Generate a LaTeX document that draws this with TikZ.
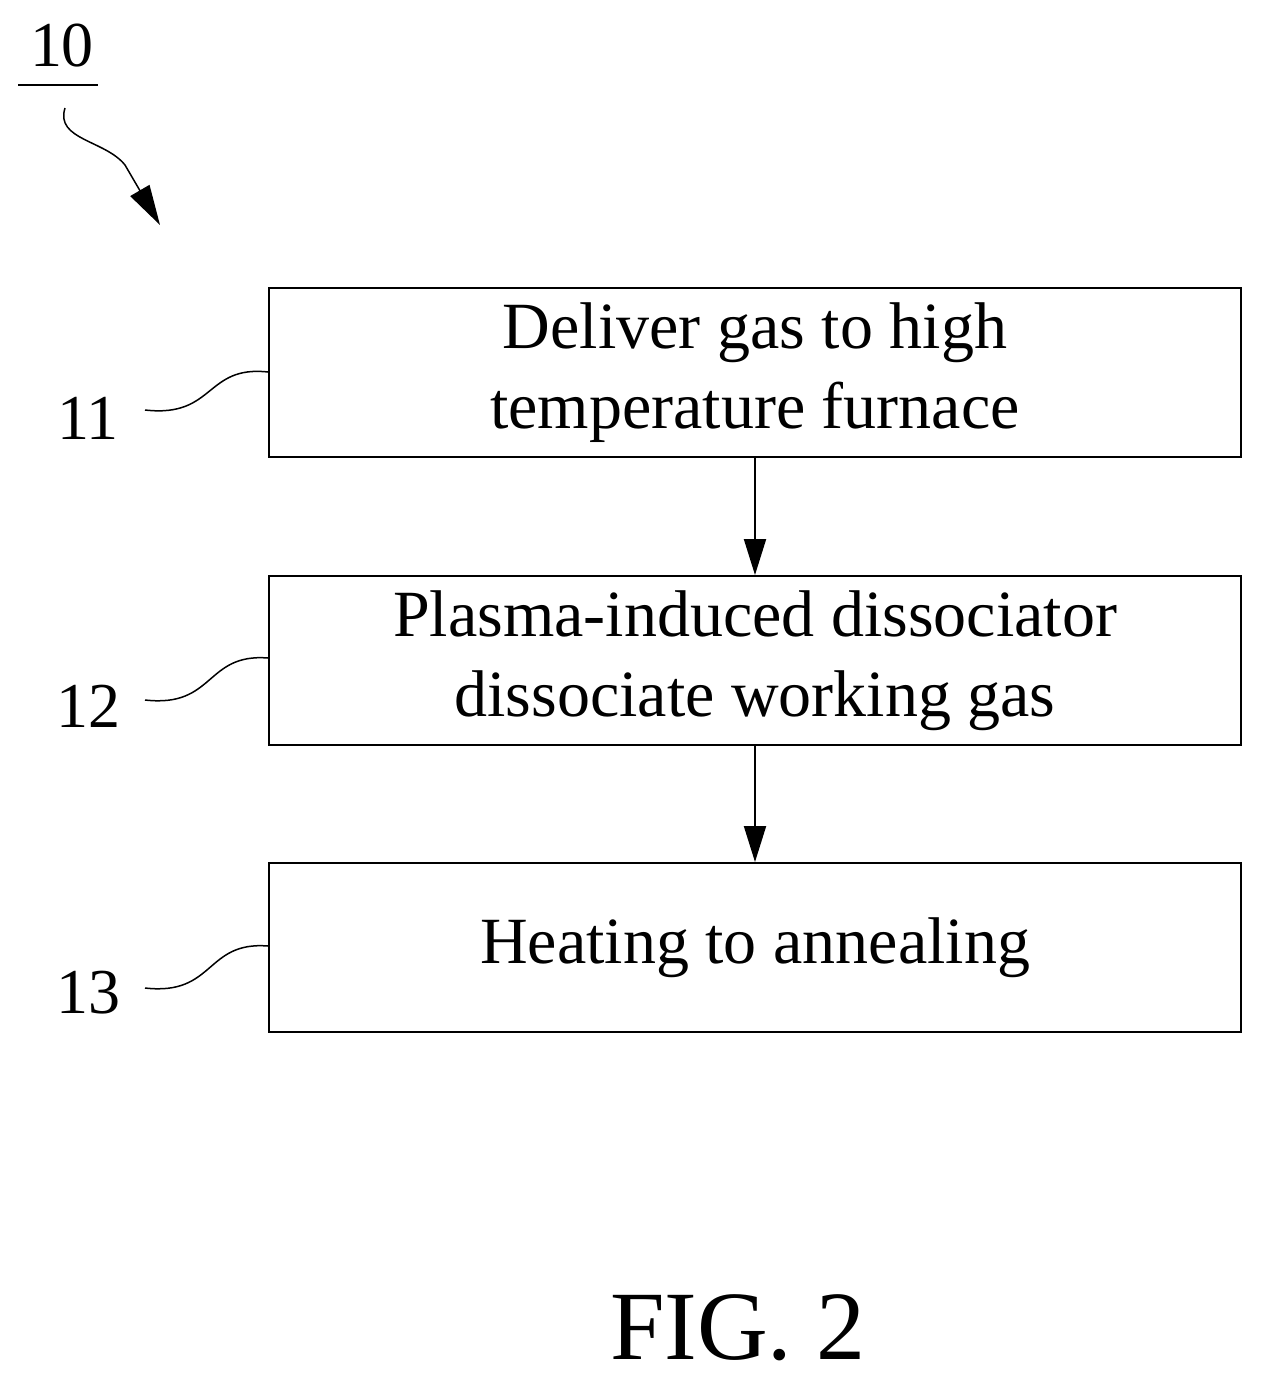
\documentclass[tikz,border=0pt]{standalone}
\usepackage{fontspec}
\setmainfont{Liberation Serif}
\usetikzlibrary{arrows.meta}
\begin{document}
\begin{tikzpicture}[x=1pt,y=-1pt,
  box/.style={draw,line width=2pt,minimum width=972pt,minimum height=169pt,anchor=north west,inner sep=0pt,align=center,font=\fontsize{66}{80}\selectfont},
  lab/.style={font=\fontsize{64}{70}\selectfont},
  lead/.style={line width=1.5pt},
  arr/.style={line width=2pt,-{Triangle[length=36pt,width=22pt]}}]
\useasboundingbox (0,0) rectangle (1263,1382);
\node[box] (b1) at (268,287) {Deliver gas to high\\temperature furnace};
\node[box] (b2) at (268,575) {Plasma-induced dissociator\\dissociate working gas};
\node[box] (b3) at (268,862) {Heating to annealing};
\node[lab] (l11) at (88,418) {11};
\node[lab] (l12) at (88,706) {12};
\node[lab] (l13) at (88,993) {13};
\node[lab] (l10) at (62,46) {10};
\draw[line width=2pt] (18,85) -- (98,85);
\coordinate (a0) at (65,108);
\coordinate (a1) at (160,225);
\draw[line width=1.5pt,-{Triangle[length=40pt,width=22pt]}] (a0) .. controls (55,140) and (105,140) .. (125,165) -- (a1);
\coordinate (s1) at (145,410); \coordinate (s2) at (145,700); \coordinate (s3) at (145,988);
\draw[lead] (s1) .. controls (215,418) and (205,365) .. (b1.west |- 0,372);
\draw[lead] (s2) .. controls (215,708) and (205,653) .. (b2.west |- 0,658);
\draw[lead] (s3) .. controls (215,996) and (205,941) .. (b3.west |- 0,946);
\draw[arr] (b1.south) -- (b2.north);
\draw[arr] (b2.south) -- (b3.north);
\node[font=\fontsize{98}{100}\selectfont] (fig) at (738,1328) {FIG. 2};
\end{tikzpicture}
\end{document}
